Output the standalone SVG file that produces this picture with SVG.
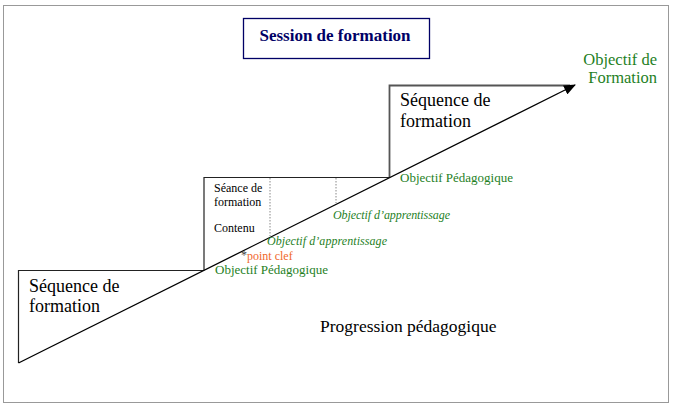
<svg xmlns="http://www.w3.org/2000/svg" width="673" height="408" viewBox="0 0 673 408">
<defs>
<style>
text{font-family:'Liberation Serif','Times New Roman',Times,serif}
.g{fill:#1f7f1f}
.o{fill:#f0682c}
.step{fill:none;stroke:#222;stroke-width:1.2}
.dot{fill:none;stroke:#888;stroke-width:1;stroke-dasharray:1.5 1.5}
</style>
<marker id="ah" viewBox="0 0 12 10" refX="11" refY="5" markerWidth="12" markerHeight="10" markerUnits="userSpaceOnUse" orient="auto">
<path d="M0,0 L12,5 L0,10 Z" fill="#000"/>
</marker>
</defs>
<rect x="0" y="0" width="673" height="408" fill="#fff"/>
<rect x="3.5" y="5.5" width="665" height="397" fill="none" stroke="#333" stroke-width="1" stroke-dasharray="1 1"/>

<g id="title">
<rect x="243.5" y="18.5" width="186" height="40" fill="#fff" stroke="#000066" stroke-width="1.3"/>
<text x="335" y="41" font-size="17" font-weight="bold" text-anchor="middle" fill="#000066">Session de formation</text>
</g>

<g id="step1">
<path class="step" d="M18.5,363 L18.5,270.5 L204,270.5"/>
<text x="29" y="292" font-size="18">Séquence de</text>
<text x="29" y="312" font-size="18">formation</text>
</g>

<g id="step2">
<path class="step" d="M204,270.5 L204,177.5 L389.5,177.5"/>
<path class="dot" d="M270,178 L270,236"/>
<path class="dot" d="M336,178 L336,203"/>
<text x="214" y="192" font-size="12">Séance de</text>
<text x="214" y="206" font-size="12">formation</text>
<text x="214" y="232" font-size="12">Contenu</text>
</g>

<g id="step3">
<path d="M389.5,177.5 L389.5,85.5 L570,85.5" fill="none" stroke="#555" stroke-width="1.8"/>
<text x="400" y="106" font-size="18">Séquence de</text>
<text x="400" y="127" font-size="18">formation</text>
</g>

<g id="connectors">
<line x1="18.5" y1="363" x2="575" y2="85" stroke="#000" stroke-width="1.3" marker-end="url(#ah)"/>
</g>

<g id="labels">
<text class="g" x="657" y="65" font-size="16.5" text-anchor="end">Objectif de</text>
<text class="g" x="657" y="83" font-size="16.5" text-anchor="end">Formation</text>
<text class="g" x="400" y="182" font-size="13">Objectif Pédagogique</text>
<text class="g" x="333" y="219" font-size="12" font-style="italic" textLength="117">Objectif d’apprentissage</text>
<text class="g" x="267" y="245" font-size="12" font-style="italic" textLength="120">Objectif  d’apprentissage</text>
<text x="241" y="259" font-size="12" fill="#444">*</text>
<text class="o" x="247" y="260" font-size="12">point clef</text>
<text class="g" x="215" y="274" font-size="13">Objectif Pédagogique</text>
<text x="320" y="332" font-size="17.5">Progression pédagogique</text>
</g>
</svg>
